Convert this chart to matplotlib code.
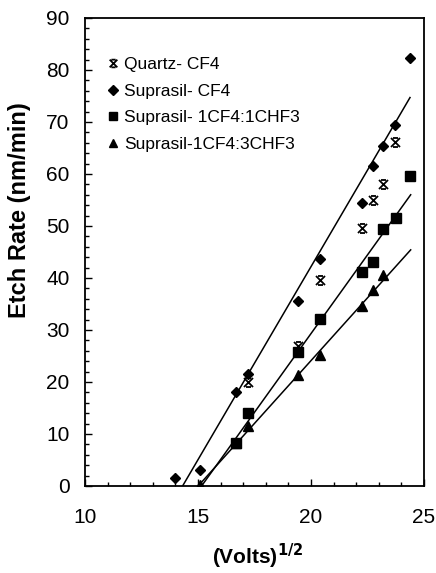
import matplotlib
matplotlib.use("Agg")
import matplotlib.pyplot as plt
from matplotlib.path import Path
from matplotlib.ticker import MultipleLocator

plt.rcParams['font.family'] = ['Liberation Sans', 'DejaVu Sans']

# Quartz, CF4 plasma
quartz_cf4_x = [17.23, 19.44, 20.40, 22.24, 22.76, 23.20, 23.72]
quartz_cf4_y = [19.9, 26.9, 39.6, 49.7, 55.0, 58.0, 66.1]

# Suprasil, CF4 plasma
supr_cf4_x = [13.98, 15.09, 16.68, 17.23, 19.41, 20.40, 22.24, 22.76, 23.20, 23.72, 24.36]
supr_cf4_y = [1.5, 3.1, 18.0, 21.6, 35.6, 43.6, 54.5, 61.5, 65.4, 69.4, 82.4]

# Suprasil, 1CF4:1CHF3
supr_11_x = [16.68, 17.23, 19.41, 20.40, 22.24, 22.76, 23.20, 23.74, 24.36]
supr_11_y = [8.3, 14.0, 25.8, 32.1, 41.2, 43.1, 49.5, 51.6, 59.6]

# Suprasil, 1CF4:3CHF3
supr_13_x = [15.09, 16.68, 17.23, 19.44, 20.40, 22.24, 22.76, 23.20]
supr_13_y = [0.2, 8.3, 11.5, 21.3, 25.2, 34.6, 37.7, 40.5]

# Linear fit lines (end points)
fit_cf4_x = [14.32, 24.38]
fit_cf4_y = [0.0, 74.7]
fit_11_x = [15.16, 24.41]
fit_11_y = [0.0, 56.0]
fit_13_x = [15.01, 24.41]
fit_13_y = [0.0, 45.4]

x_ticks = [10, 15, 20, 25]
y_ticks = [0, 10, 20, 30, 40, 50, 60, 70, 80, 90]

# "x" marker with short horizontal caps
cap = 0.55
quartz_marker = Path(
    [(-1, -1), (1, 1), (-1, 1), (1, -1),
     (-cap, 1), (cap, 1), (-cap, -1), (cap, -1)],
    [Path.MOVETO, Path.LINETO, Path.MOVETO, Path.LINETO,
     Path.MOVETO, Path.LINETO, Path.MOVETO, Path.LINETO])

fig = plt.figure(figsize=(4.36, 5.73), dpi=100)
ax = fig.add_axes([0.195, 0.152, 0.7775, 0.8166])

for xs, ys in [(fit_cf4_x, fit_cf4_y), (fit_11_x, fit_11_y), (fit_13_x, fit_13_y)]:
    ax.plot(xs, ys, color='black', lw=1.1, zorder=2)

ax.plot(quartz_cf4_x, quartz_cf4_y, ls='none', marker=quartz_marker, ms=6.5,
        mec='black', mew=1.3, color='black', label='Quartz- CF4', zorder=3)
ax.plot(supr_cf4_x, supr_cf4_y, ls='none', marker='D', ms=5.5,
        color='black', label='Suprasil- CF4', zorder=3)
ax.plot(supr_11_x, supr_11_y, ls='none', marker='s', ms=6.5,
        color='black', label='Suprasil- 1CF4:1CHF3', zorder=3)
ax.plot(supr_13_x, supr_13_y, ls='none', marker='^', ms=6.5,
        color='black', label='Suprasil-1CF4:3CHF3', zorder=3)

ax.set_xlim(10, 25)
ax.set_ylim(0, 90)
ax.set_xticks(x_ticks)
ax.set_yticks(y_ticks)
ax.xaxis.set_minor_locator(MultipleLocator(1))
ax.yaxis.set_minor_locator(MultipleLocator(2))
ax.tick_params(which='both', direction='in', top=False, right=False,
               labelsize=15, width=1.0)
ax.tick_params(which='major', length=5)
ax.tick_params(which='minor', length=3)
ax.tick_params(axis='x', pad=16)
ax.tick_params(axis='y', pad=11)

for s in ax.spines.values():
    s.set_linewidth(1.3)

ax.set_xlabel(r'(Volts)$^{\mathbf{1/2}}$', fontsize=15, fontweight='bold')
ax.set_ylabel('Etch Rate (nm/min)', fontsize=17, fontweight='bold')
ax.yaxis.set_label_coords(-0.158, 0.59)
ax.xaxis.set_label_coords(0.51, -0.12)

leg = ax.legend(loc='upper left', bbox_to_anchor=(0.02, 0.95), frameon=False,
                fontsize=12.5, handlelength=0.6, handletextpad=0.35,
                labelspacing=0.66, markerscale=0.85)

fig.savefig('out.png', dpi=100)
